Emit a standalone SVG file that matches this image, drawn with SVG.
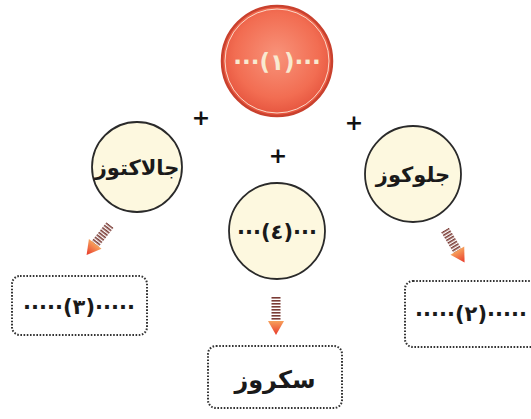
<svg xmlns="http://www.w3.org/2000/svg" width="531" height="419" viewBox="0 0 531 419">
<defs>
<radialGradient id="redg" cx="50%" cy="45%" r="55%">
<stop offset="0" stop-color="#f8937a"/>
<stop offset="0.7" stop-color="#f26d52"/>
<stop offset="1" stop-color="#e5533d"/>
</radialGradient>
<linearGradient id="headg" x1="0" y1="0" x2="0" y2="1">
<stop offset="0" stop-color="#f7a15c"/>
<stop offset="1" stop-color="#e8382a"/>
</linearGradient>
<pattern id="stripes" width="10" height="3" patternUnits="userSpaceOnUse">
<rect x="0" y="0" width="10" height="1.6" fill="#7a3b35"/>
</pattern>
<g id="arrow">
<rect x="-4.5" y="0" width="9" height="26" fill="url(#stripes)"/>
<polygon points="-8,24 8,24 0,38" fill="url(#headg)"/>
</g>
</defs>
<style>
.c{fill:#fdf8df;stroke:#2a2a2a;stroke-width:1.8}
.t{font-family:"DejaVu Sans",sans-serif;font-weight:bold;fill:#1a1a1a;text-anchor:middle}
.b{fill:#ffffff;stroke:#333;stroke-width:2;stroke-dasharray:1.6 1.6}
.p{font-family:"DejaVu Sans",sans-serif;font-weight:bold;font-size:22px;fill:#111;text-anchor:middle}
</style>
<rect width="531" height="419" fill="#ffffff"/>
<g id="connectors">
<use href="#arrow" transform="translate(110,225) rotate(38)"/>
<use href="#arrow" transform="translate(445,230) rotate(-31)"/>
<use href="#arrow" transform="translate(276,297)"/>
</g>
<g id="n1">
<circle cx="277" cy="61" r="55" fill="url(#redg)" stroke="#c9412e" stroke-width="2.5"/>
<circle cx="277" cy="61" r="52" fill="none" stroke="#fbd9c8" stroke-width="1"/>
<text class="t" x="277" y="70" font-size="23" style="fill:#f8ead0">···(١)···</text>
</g>
<g id="plus">
<text class="p" x="201" y="125">+</text>
<text class="p" x="278" y="163">+</text>
<text class="p" x="354" y="130">+</text>
</g>
<g id="n_galactose">
<circle class="c" cx="137" cy="167" r="45"/>
<text class="t" x="137" y="175" font-size="21">جالاکتوز</text>
</g>
<g id="n4">
<circle class="c" cx="277" cy="231" r="48"/>
<text class="t" x="277" y="239" font-size="21">···(٤)···</text>
</g>
<g id="n_glucose">
<circle class="c" cx="413" cy="174" r="48"/>
<text class="t" x="413" y="182" font-size="21">جلوکوز</text>
</g>
<g id="n3">
<rect class="b" x="12" y="276" width="135" height="59" rx="8"/>
<text class="t" x="79" y="314" font-size="21">·····(٣)·····</text>
</g>
<g id="n2">
<rect class="b" x="405" y="281" width="140" height="66" rx="8"/>
<text class="t" x="471" y="321" font-size="21">·····(٢)·····</text>
</g>
<g id="n_sucrose">
<rect class="b" x="208" y="346" width="134" height="62" rx="8"/>
<text class="t" x="275" y="388" font-size="24">سکروز</text>
</g>
</svg>
